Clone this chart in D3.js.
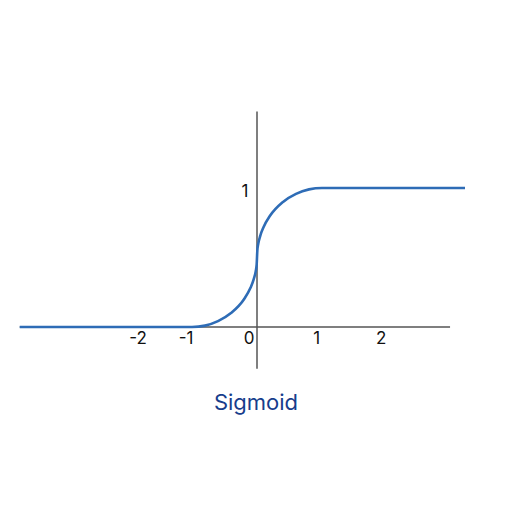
<!DOCTYPE html>
<html><head><meta charset="utf-8">
<script src="https://cdn.jsdelivr.net/npm/d3@7"></script>
<style>html,body{margin:0;padding:0;background:#fff;}</style>
</head><body>
<svg id="c" width="512" height="512"></svg>
<script>
// Curve points (x, y)
const curveX = [-3.65, -1.0, -0.8, -0.6, -0.4, -0.2, -0.1, -0.05, -0.02, -0.005, 0, 0.005, 0.02, 0.05, 0.1, 0.2, 0.4, 0.6, 0.8, 1.0, 3.2];
const curveY = [0, 0, 0.01, 0.042, 0.10, 0.20, 0.282, 0.344, 0.40, 0.45, 0.5, 0.55, 0.60, 0.656, 0.718, 0.80, 0.90, 0.958, 0.99, 1, 1];
// tick labels and where they sit along the x axis
const xTickLabels = ["-2", "-1", "0", "1", "2"];
const xTickPos = [-1.83, -1.09, -0.12, 0.92, 1.91];
const yTickLabels = ["1"];
const yTickPos = [1];
const xAxisExtent = [-3.65, 2.97];
const yAxisExtent = [-0.30, 1.55];
const title = "Sigmoid";

const svg = d3.select("#c");
const x = d3.scaleLinear().domain([0, 1]).range([257, 322]);
const y = d3.scaleLinear().domain([0, 1]).range([327, 188]);

const axisColor = "#555";
svg.append("line")
  .attr("x1", x(xAxisExtent[0])).attr("x2", x(xAxisExtent[1]))
  .attr("y1", y(0)).attr("y2", y(0))
  .attr("stroke", axisColor).attr("stroke-width", 1.5);
svg.append("line")
  .attr("x1", x(0)).attr("x2", x(0))
  .attr("y1", y(yAxisExtent[0])).attr("y2", y(yAxisExtent[1]))
  .attr("stroke", axisColor).attr("stroke-width", 1.5);

const pts = curveX.map((d, i) => [d, curveY[i]]);
const line = d3.line().x(d => x(d[0])).y(d => y(d[1])).curve(d3.curveMonotoneX);
svg.append("path").attr("d", line(pts))
  .attr("fill", "none").attr("stroke", "#2e6cb6").attr("stroke-width", 2.6)
  .attr("stroke-linejoin", "round");

const font = "Inter, Roboto, sans-serif";
svg.selectAll("text.xt").data(xTickLabels).enter().append("text")
  .attr("class", "xt")
  .attr("x", (d, i) => x(xTickPos[i]))
  .attr("y", y(0) + 16.5)
  .attr("text-anchor", "middle")
  .attr("font-family", font).attr("font-size", 17).attr("fill", "#111")
  .text(d => d);

svg.selectAll("text.yt").data(yTickLabels).enter().append("text")
  .attr("class", "yt")
  .attr("x", x(0) - 12)
  .attr("y", (d, i) => y(yTickPos[i]) + 9)
  .attr("text-anchor", "middle")
  .attr("font-family", font).attr("font-size", 17).attr("fill", "#111")
  .text(d => d);

svg.append("text")
  .attr("x", 256).attr("y", 410)
  .attr("text-anchor", "middle")
  .attr("font-family", font).attr("font-size", 22).attr("font-weight", 400).attr("fill", "#173d8c")
  .text(title);
</script>
</body></html>
